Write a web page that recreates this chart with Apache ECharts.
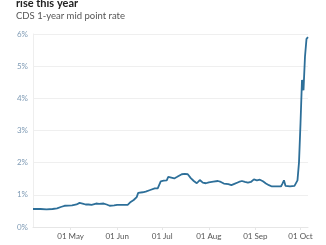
<!DOCTYPE html>
<html>
<head>
<meta charset="utf-8">
<script src="https://cdn.jsdelivr.net/npm/echarts@6/dist/echarts.min.js"></script>
<style>
html,body{margin:0;padding:0;background:#fff;}
#c{width:326px;height:245px;}
</style>
</head>
<body>
<div id="c"></div>
<script>
const dates = [
'2022-04-06','2022-04-11','2022-04-15','2022-04-19','2022-04-22','2022-04-25','2022-04-27',
'2022-05-02','2022-05-03','2022-05-05','2022-05-07','2022-05-09','2022-05-11','2022-05-13','2022-05-15',
'2022-05-16','2022-05-18','2022-05-20','2022-05-23','2022-05-25','2022-05-27','2022-05-30',
'2022-06-01','2022-06-04','2022-06-08','2022-06-10','2022-06-12','2022-06-14','2022-06-15','2022-06-18',
'2022-06-20','2022-06-23','2022-06-26','2022-06-28','2022-06-30','2022-07-02','2022-07-04','2022-07-05',
'2022-07-06','2022-07-09','2022-07-11','2022-07-14','2022-07-16','2022-07-18','2022-07-20','2022-07-22',
'2022-07-24','2022-07-25','2022-07-26','2022-07-28','2022-07-30','2022-08-01','2022-08-04','2022-08-07',
'2022-08-09','2022-08-11','2022-08-14','2022-08-16','2022-08-18','2022-08-21','2022-08-23','2022-08-25',
'2022-08-27','2022-08-29','2022-08-31','2022-09-02','2022-09-04','2022-09-06','2022-09-08','2022-09-10',
'2022-09-12','2022-09-14','2022-09-18','2022-09-19','2022-09-20','2022-09-21','2022-09-22','2022-09-24',
'2022-09-27','2022-09-29','2022-09-30','2022-10-01','2022-10-02','2022-10-03','2022-10-04','2022-10-05','2022-10-06'
];
const cdsRate = [
0.56,0.56,0.55,0.56,0.58,0.63,0.66,
0.67,0.67,0.70,0.75,0.73,0.70,0.70,0.69,
0.66,0.73,0.72,0.73,0.70,0.66,0.67,
0.69,0.69,0.69,0.78,0.84,0.93,1.06,1.08,
1.10,1.15,1.20,1.20,1.42,1.44,1.45,1.56,
1.50,1.51,1.56,1.64,1.65,1.64,1.52,1.43,
1.36,1.40,1.46,1.38,1.36,1.39,1.41,1.43,
1.40,1.35,1.33,1.30,1.34,1.40,1.43,1.40,
1.38,1.40,1.48,1.45,1.47,1.42,1.35,1.30,
1.26,1.26,1.26,1.35,1.45,1.28,1.22,1.26,
1.28,1.45,2.00,3.20,4.57,4.25,5.30,5.85,5.90
];
const monthNames = ['Jan','Feb','Mar','Apr','May','Jun','Jul','Aug','Sep','Oct','Nov','Dec'];
const yTicks = [0,1,2,3,4,5,6];

const FONT = 'Lato, "Noto Sans", sans-serif';
const DAY = 86400000;
const seriesData = dates.map((d, i) => [d, cdsRate[i]]);

const chart = echarts.init(document.getElementById('c'), null, {renderer: 'canvas'});
chart.setOption({
  animation: false,
  backgroundColor: '#fff',
  title: [
    {text: 'rise this year', left: 16, top: -2, padding: 0,
     textStyle: {fontFamily: FONT, fontSize: 11, fontWeight: 'bold', color: '#222', lineHeight: 11}},
    {text: 'CDS 1-year mid point rate', left: 16, top: 11, padding: 0,
     textStyle: {fontFamily: FONT, fontSize: 9.5, fontWeight: 'normal', color: '#555', lineHeight: 10}}
  ],
  grid: {left: 33, right: 18, top: 34, bottom: 18, containLabel: false},
  xAxis: {
    type: 'time',
    min: 'dataMin', max: 'dataMax',
    splitNumber: 6,
    minInterval: 28 * DAY,
    maxInterval: 31 * DAY,
    axisLine: {show: true, lineStyle: {color: '#e6e6e6', width: 1}},
    axisTick: {show: true, length: 3, lineStyle: {color: '#e6e6e6'}},
    splitLine: {show: false},
    axisLabel: {
      fontFamily: FONT, fontSize: 8, color: '#555', margin: 5,
      formatter: function (v) {
        const d = new Date(v);
        return String(d.getDate()).padStart(2, '0') + ' ' + monthNames[d.getMonth()];
      }
    }
  },
  yAxis: {
    type: 'value', min: yTicks[0], max: yTicks[yTicks.length - 1], interval: 1,
    axisLine: {show: true, lineStyle: {color: '#eeeeee'}},
    axisTick: {show: false},
    splitLine: {show: true, lineStyle: {color: '#efefef', width: 1}},
    axisLabel: {fontFamily: FONT, fontSize: 8, color: '#7f9bb5', margin: 5, formatter: '{value}%'}
  },
  series: [{
    type: 'line',
    data: seriesData,
    showSymbol: false,
    symbol: 'none',
    lineStyle: {color: '#2d6f99', width: 1.8},
    z: 3
  }]
});
</script>
</body>
</html>
